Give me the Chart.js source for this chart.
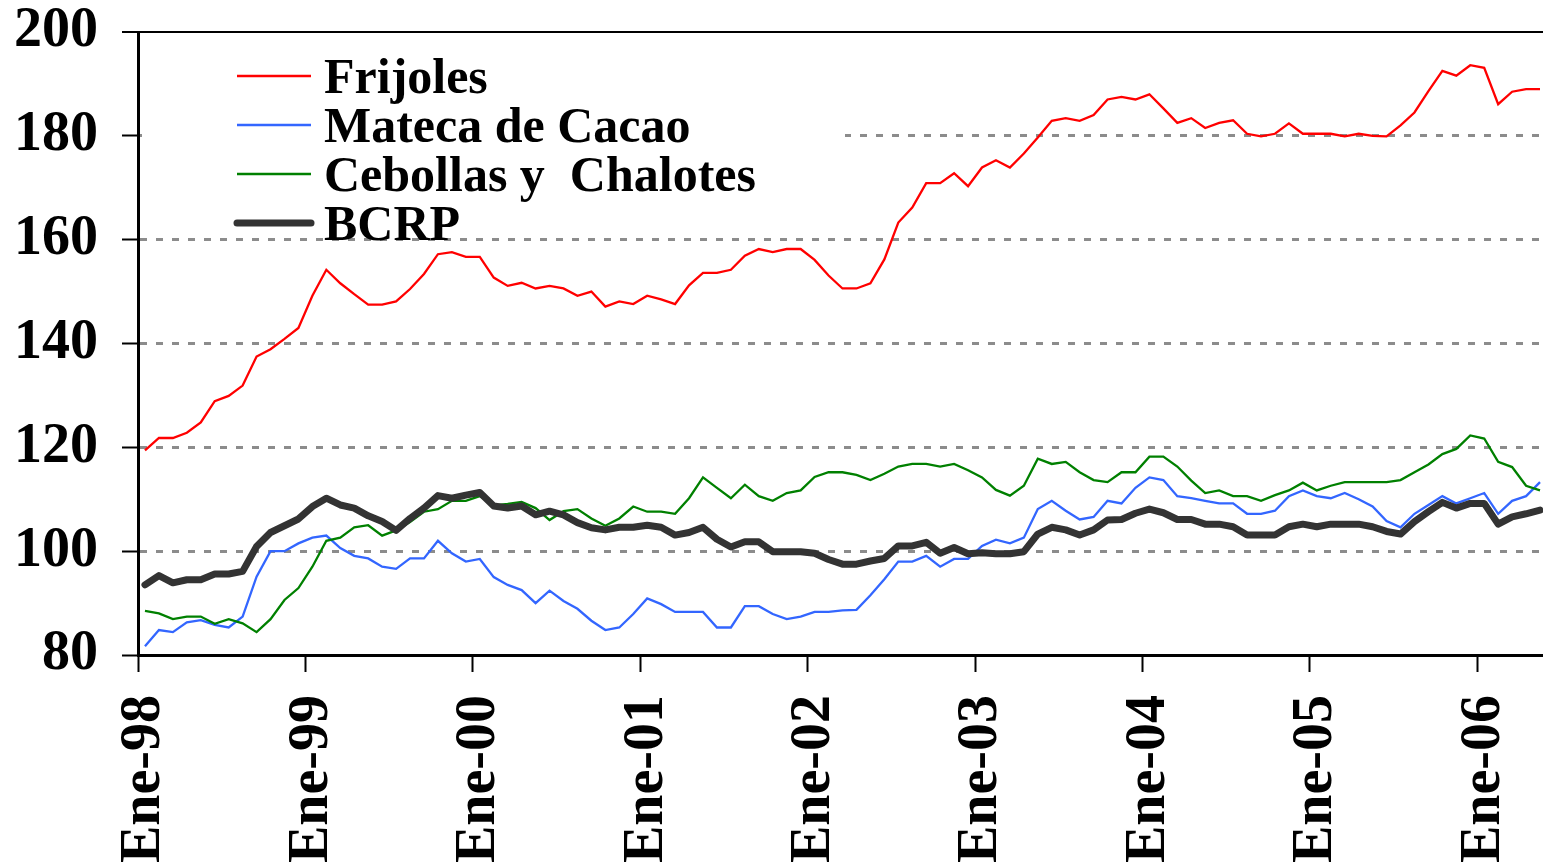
<!DOCTYPE html>
<html lang="es">
<head>
<meta charset="utf-8">
<title>Frijoles, Mateca de Cacao, Cebollas y Chalotes, BCRP</title>
<script src="https://cdn.jsdelivr.net/npm/chart.js@4.4.1/dist/chart.umd.min.js"></script>
<style>
  html, body { margin: 0; padding: 0; background: #fff; overflow: hidden; }
  #grafico { display: block; }
</style>
</head>
<body>
<canvas id="grafico" width="1548" height="864"></canvas>
<script>
// eje x: meses de Ene-98 a May-06
const meses = ['Ene', 'Feb', 'Mar', 'Abr', 'May', 'Jun', 'Jul', 'Ago', 'Sep', 'Oct', 'Nov', 'Dic'];
const anios = ['98', '99', '00', '01', '02', '03', '04', '05', '06'];
const totalMeses = 101;

// eje y
const ticksY = [80, 100, 120, 140, 160, 180, 200];

// series (indices mensuales)
const frijoles = [
  119.4, 121.8, 121.8, 122.8, 124.8, 128.9, 129.9, 131.9, 137.5, 138.9, 140.9, 143.0,
  149.2, 154.2, 151.6, 149.5, 147.5, 147.5, 148.1, 150.5, 153.4, 157.2, 157.6, 156.7,
  156.7, 152.7, 151.1, 151.7, 150.6, 151.1, 150.6, 149.2, 150.0, 147.1, 148.1, 147.6,
  149.2, 148.5, 147.6, 151.2, 153.6, 153.6, 154.2, 156.9, 158.2, 157.6, 158.2, 158.2,
  156.1, 153.1, 150.6, 150.6, 151.6, 156.2, 163.3, 166.2, 170.9, 170.9, 172.8, 170.3,
  173.9, 175.3, 173.9, 176.6, 179.7, 182.9, 183.4, 182.9, 184.0, 187.0, 187.5, 187.0,
  188.0, 185.3, 182.5, 183.4, 181.5, 182.5, 183.0, 180.4, 179.9, 180.4, 182.4, 180.4,
  180.4, 180.4, 179.9, 180.4, 180.0, 179.9, 182.0, 184.5, 188.6, 192.5, 191.6, 193.6,
  193.1, 186.1, 188.5, 189.0, 189.0
];
const manteca = [
  81.7, 84.8, 84.4, 86.3, 86.7, 85.8, 85.3, 87.4, 95.1, 100.0, 100.0, 101.5,
  102.6, 103.0, 100.6, 99.1, 98.6, 97.0, 96.6, 98.6, 98.6, 102.0, 99.6, 98.0,
  98.5, 95.0, 93.5, 92.5, 90.0, 92.4, 90.4, 88.9, 86.6, 84.8, 85.3, 87.9,
  90.9, 89.8, 88.3, 88.3, 88.3, 85.3, 85.3, 89.4, 89.4, 87.9, 86.9, 87.4,
  88.3, 88.3, 88.6, 88.7, 91.5, 94.6, 98.0, 98.0, 99.1, 97.0, 98.5, 98.5,
  101.0, 102.2, 101.5, 102.6, 108.1, 109.7, 107.8, 106.1, 106.6, 109.7, 109.2, 112.2,
  114.2, 113.7, 110.6, 110.2, 109.7, 109.2, 109.2, 107.2, 107.2, 107.8, 110.6, 111.7,
  110.6, 110.2, 111.2, 110.0, 108.6, 105.8, 104.6, 107.2, 108.9, 110.6, 109.2, 110.2,
  111.2, 107.2, 109.7, 110.6, 113.3
];
const cebollas = [
  88.5, 88.0, 86.9, 87.4, 87.4, 86.0, 86.9, 86.1, 84.4, 86.9, 90.6, 92.9,
  97.0, 102.0, 102.6, 104.6, 105.0, 103.0, 104.0, 105.6, 107.6, 108.1, 109.7, 109.7,
  110.6, 108.8, 109.1, 109.5, 108.3, 106.0, 107.7, 108.1, 106.3, 104.9, 106.3, 108.6,
  107.6, 107.6, 107.2, 110.2, 114.2, 112.2, 110.2, 112.8, 110.6, 109.7, 111.2, 111.7,
  114.3, 115.2, 115.2, 114.7, 113.7, 114.9, 116.3, 116.8, 116.8, 116.3, 116.8, 115.6,
  114.2, 111.8, 110.7, 112.6, 117.8, 116.8, 117.2, 115.2, 113.7, 113.3, 115.2, 115.2,
  118.2, 118.2, 116.3, 113.6, 111.2, 111.7, 110.6, 110.6, 109.7, 110.8, 111.7, 113.2,
  111.7, 112.6, 113.3, 113.3, 113.3, 113.3, 113.7, 115.2, 116.7, 118.7, 119.7, 122.3,
  121.7, 117.2, 116.2, 112.6, 111.7
];
const bcrp = [
  93.5, 95.3, 93.9, 94.5, 94.5, 95.6, 95.6, 96.1, 100.9, 103.6, 104.9, 106.2,
  108.6, 110.2, 108.9, 108.3, 106.8, 105.7, 104.0, 106.3, 108.3, 110.7, 110.2, 110.8,
  111.3, 108.7, 108.3, 108.7, 107.0, 107.7, 107.0, 105.5, 104.5, 104.1, 104.6, 104.6,
  105.0, 104.6, 103.1, 103.6, 104.6, 102.3, 100.8, 101.8, 101.8, 99.9, 99.9, 99.9,
  99.6, 98.4, 97.5, 97.5, 98.1, 98.6, 101.0, 101.0, 101.7, 99.6, 100.7, 99.5,
  99.7, 99.5, 99.5, 99.9, 103.3, 104.6, 104.1, 103.1, 104.1, 106.0, 106.1, 107.3,
  108.1, 107.4, 106.1, 106.1, 105.2, 105.2, 104.7, 103.1, 103.1, 103.1, 104.7, 105.2,
  104.7, 105.2, 105.2, 105.2, 104.7, 103.8, 103.3, 105.7, 107.6, 109.4, 108.3, 109.2,
  109.2, 105.2, 106.6, 107.2, 107.9
];

// etiquetas tipo "Ene-98"
const etiquetas = [];
for (let i = 0; i < totalMeses; i++) {
  etiquetas.push(meses[i % 12] + '-' + anios[Math.floor(i / 12)]);
}

const fuente = "'Liberation Serif', 'Times New Roman', serif";

// leyenda propia: caja blanca dentro del area del grafico
const leyenda = {
  id: 'leyenda',
  beforeDatasetsDraw(chart, args, opts) {
    const ctx = chart.ctx;
    ctx.save();
    ctx.fillStyle = '#fff';
    ctx.fillRect(opts.caja.x, opts.caja.y, opts.caja.w, opts.caja.h);
    ctx.font = 'bold ' + opts.tamano + 'px ' + fuente;
    ctx.textBaseline = 'alphabetic';
    ctx.textAlign = 'left';
    chart.data.datasets.forEach((ds, i) => {
      const y = opts.y + i * opts.fila;
      ctx.strokeStyle = ds.borderColor;
      ctx.lineWidth = ds.borderWidth;
      ctx.lineCap = ds.borderWidth > 4 ? 'round' : 'butt';
      ctx.beginPath();
      ctx.moveTo(opts.x, y);
      ctx.lineTo(opts.x + opts.largo, y);
      ctx.stroke();
      // texto centrado en la linea (mitad de la altura de mayusculas)
      ctx.fillStyle = '#000';
      ctx.fillText(ds.label, opts.x + opts.largo + 13, y + opts.tamano * 0.33);
    });
    ctx.restore();
  }
};

new Chart(document.getElementById('grafico'), {
  type: 'line',
  data: {
    labels: etiquetas,
    datasets: [
      { label: 'Frijoles', data: frijoles, borderColor: '#ff0000', borderWidth: 2.3, order: 4 },
      { label: 'Mateca de Cacao', data: manteca, borderColor: '#3366ff', borderWidth: 2.3, order: 3 },
      { label: 'Cebollas y  Chalotes', data: cebollas, borderColor: '#008000', borderWidth: 2.3, order: 2 },
      { label: 'BCRP', data: bcrp, borderColor: '#333333', borderWidth: 7, order: 1,
        borderJoinStyle: 'round', borderCapStyle: 'round' }
    ]
  },
  options: {
    responsive: false,
    animation: false,
    layout: { padding: { top: 32, right: 1, left: 0, bottom: 0 } },
    elements: {
      point: { radius: 0 },
      line: { tension: 0, fill: false }
    },
    plugins: {
      legend: { display: false },
      tooltip: { enabled: false },
      leyenda: {
        caja: { x: 142, y: 48, w: 703, h: 189 },
        x: 237, y: 76, fila: 49, largo: 74, tamano: 50
      }
    },
    scales: {
      x: {
        type: 'category',
        offset: true,
        grid: {
          offset: true,
          drawOnChartArea: false,
          color: 'rgba(0,0,0,0)',
          tickLength: 17,
          tickWidth: 2,
          tickColor: ctx => (ctx.index % 12 === 0 ? '#000' : 'rgba(0,0,0,0)')
        },
        border: { color: '#000', width: 3 },
        ticks: {
          autoSkip: false,
          minRotation: 90,
          maxRotation: 90,
          padding: 23,
          color: '#000',
          font: { family: fuente, size: 56, weight: 'bold' },
          callback: function (v, i) {
            return i % 12 === 0 ? this.getLabelForValue(v) : '';
          }
        },
        afterFit: s => {
          s.height = 864 - 655;
          s.paddingLeft = 0;
          s.paddingRight = 0;
        }
      },
      y: {
        min: ticksY[0],
        max: ticksY[ticksY.length - 1],
        afterBuildTicks: s => {
          s.ticks = ticksY.map(v => ({ value: v }));
        },
        grid: {
          color: ctx => {
            if (!ctx.tick) return '#8c8c8c';
            if (ctx.tick.value === 200) return '#000';
            if (ctx.tick.value === 80) return 'rgba(0,0,0,0)';
            return '#8c8c8c';
          },
          lineWidth: ctx => (ctx.tick && ctx.tick.value === 200 ? 2 : 3),
          tickColor: '#000',
          tickLength: 16,
          tickWidth: 2
        },
        border: {
          color: '#000',
          width: 3,
          dash: ctx => (ctx.type === 'tick' && ctx.tick.value !== 200 ? [7, 9] : [])
        },
        ticks: {
          padding: 24,
          color: '#000',
          font: { family: fuente, size: 56, weight: 'bold', lineHeight: 1 }
        },
        afterFit: s => {
          s.width = 138;
          s.paddingTop = 0;
          s.paddingBottom = 0;
        }
      }
    }
  },
  plugins: [leyenda]
});
</script>
</body>
</html>
